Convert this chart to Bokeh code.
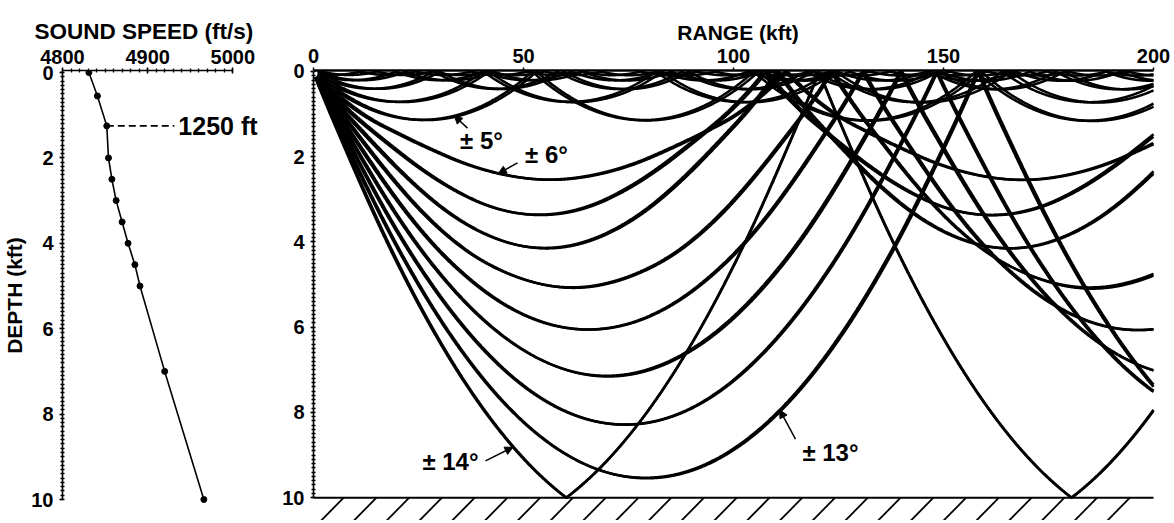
import math
import bisect
from bokeh.plotting import figure
from bokeh.layouts import row
from bokeh.models import Range1d, FixedTicker, Arrow, NormalHead, Label
from bokeh.embed import file_html
from bokeh.resources import INLINE

# ---------------- data ----------------
profile_depth_kft = [0.0, 0.55, 1.25, 2.0, 2.5, 3.0, 3.5, 4.0, 4.5, 5.0, 7.0, 10.0]
profile_speed_fts = [4831, 4841, 4852, 4854, 4858, 4863, 4870, 4877, 4885, 4891, 4920, 4966]
layer_depth_kft = 1.25
layer_text = "1250 ft"
launch_angles_deg = list(range(1, 15))      # rays launched at +/- these angles
source_depth_kft = 0.04
bottom_depth_kft = 10.0
max_range_kft = 200.0
speed_ticks = [4800, 4900, 5000]
range_ticks = [0, 50, 100, 150, 200]
depth_ticks = [0, 2, 4, 6, 8, 10]
speed_title = "SOUND SPEED (ft/s)"
depth_title = "DEPTH (kft)"
range_title = "RANGE (kft)"
label_angles = [5, 6, 14, 13]
label_texts = ["± 5°", "± 6°", "± 14°", "± 13°"]

# ---------------- ray trace through the profile ----------------
GRAD = [(profile_speed_fts[i + 1] - profile_speed_fts[i]) /
        (profile_depth_kft[i + 1] - profile_depth_kft[i])
        for i in range(len(profile_depth_kft) - 1)]


def speed_grad(z):
    i = bisect.bisect_right(profile_depth_kft, z) - 1
    i = min(max(i, 0), len(GRAD) - 1)
    return profile_speed_fts[i] + GRAD[i] * (z - profile_depth_kft[i]), GRAD[i]


def trace(theta_deg, ds=0.04):
    th = math.radians(theta_deg)
    x, z = 0.0, source_depth_kft
    xs, zs = [x], [z]
    n = 0
    while x < max_range_kft:
        c1, g1 = speed_grad(z)
        k1 = -math.cos(th) * g1 / c1
        thm = th + 0.5 * ds * k1
        zm = min(max(z + 0.5 * ds * math.sin(th), 0.0), bottom_depth_kft)
        c2, g2 = speed_grad(zm)
        k2 = -math.cos(thm) * g2 / c2
        nx = x + ds * math.cos(thm)
        nz = z + ds * math.sin(thm)
        nth = th + ds * k2
        if nz < 0 or nz > bottom_depth_kft:
            b = 0.0 if nz < 0 else bottom_depth_kft
            f = (b - z) / (nz - z)
            xs.append(x + f * (nx - x))
            zs.append(b)
            nz = 2 * b - nz
            nth = -nth
            n = 0
        if nx >= max_range_kft:
            f = (max_range_kft - x) / (nx - x)
            xs.append(max_range_kft)
            zs.append(z + f * (nz - z))
            break
        x, z, th = nx, nz, nth
        n += 1
        if n % 3 == 0:
            xs.append(x)
            zs.append(z)
    return xs, zs


ray_xs, ray_zs = [], []
rays_by_angle = {}
for a in launch_angles_deg:
    for s in (1, -1):
        xs, zs = trace(s * a)
        ray_xs.append(xs)
        ray_zs.append(zs)
        rays_by_angle[s * a] = (xs, zs)


def depth_on_ray(angle, r):
    xs, zs = rays_by_angle[angle]
    for i in range(1, len(xs)):
        if xs[i] >= r:
            f = (r - xs[i - 1]) / (xs[i] - xs[i - 1])
            return zs[i - 1] + f * (zs[i] - zs[i - 1])
    return zs[-1]


# ---------------- layout (pixel targets in picture coordinates) ----------------
FONT = "Liberation Sans"
OFF = 0          # observed page offset of the plot canvas
H = 520

# left panel (sound speed)
L_W = 278
L_x0_page, L_px_per = 60, 0.86           # 4800 at x 60, 5000 at x 232
L_frame_left, L_frame_right = 60, 262
L_frame_top, L_frame_bottom = 70, OFF + H
L_d0, L_dpx = 72, 42.7                   # depth 0 at y 72, 10 at y 499

p1 = figure(width=L_W, height=H, output_backend="svg", toolbar_location=None,
            x_axis_location="above", title=speed_title,
            x_range=Range1d(speed_ticks[0] + (L_frame_left - L_x0_page) / L_px_per,
                            speed_ticks[0] + (L_frame_right - L_x0_page) / L_px_per),
            y_range=Range1d(bottom_depth_kft + (L_frame_bottom - (L_d0 + 10 * L_dpx)) / L_dpx,
                            -(L_d0 - L_frame_top) / L_dpx))
p1.min_border_left = L_frame_left - OFF
p1.min_border_right = OFF + L_W - L_frame_right
p1.min_border_top = L_frame_top - OFF
p1.min_border_bottom = OFF + H - L_frame_bottom
p1.title.align = "left"
p1.title.offset = 32 - L_frame_left
p1.title.standoff = 5
p1.title.text_font = FONT
p1.title.text_font_style = "bold"
p1.title.text_font_size = "22.5px"
p1.title.text_color = "black"


def lsx(px):
    return speed_ticks[0] + (px - L_x0_page) / L_px_per


# right panel (ray trace)
R_W = 1174 - L_W
R_page_left = OFF + L_W
R_x0_page, R_px_per = 313, (1153 - 313) / 200.0
R_frame_left, R_frame_right = 313, 1162
R_frame_top, R_frame_bottom = 67, OFF + H
R_d0, R_dpx = 68, 42.9

p2 = figure(width=R_W, height=H, output_backend="svg", toolbar_location=None,
            x_axis_location="above",
            x_range=Range1d((R_frame_left - R_x0_page) / R_px_per,
                            (R_frame_right - R_x0_page) / R_px_per),
            y_range=Range1d(bottom_depth_kft + (R_frame_bottom - (R_d0 + 10 * R_dpx)) / R_dpx,
                            -(R_d0 - R_frame_top) / R_dpx))
p2.min_border_left = R_frame_left - R_page_left
p2.min_border_right = R_page_left + R_W - R_frame_right
p2.min_border_top = R_frame_top - OFF
p2.min_border_bottom = OFF + H - R_frame_bottom

for p in (p1, p2):
    p.grid.visible = False
    p.outline_line_color = None
    p.background_fill_color = "white"
    p.border_fill_color = "white"
    for ax in (p.xaxis[0], p.yaxis[0]):
        ax.major_label_text_font = FONT
        ax.major_label_text_font_style = "bold"
        ax.major_label_text_font_size = "20px"
        ax.major_label_text_color = "black"
        ax.axis_label_text_font = FONT
        ax.axis_label_text_font_style = "bold"
        ax.axis_label_text_font_size = "21px"
        ax.axis_label_text_color = "black"
        ax.axis_line_color = "black"
        ax.major_tick_line_color = "black"
        ax.minor_tick_line_color = "black"
        ax.axis_line_width = 1.6
        ax.major_tick_line_width = 1.5
        ax.minor_tick_line_width = 1.3

# left panel axes
xa = p1.xaxis[0]
xa.ticker = FixedTicker(ticks=speed_ticks, minor_ticks=list(range(4800, 5001, 10)))
xa.bounds = (speed_ticks[0], speed_ticks[-1])
xa.major_tick_in, xa.major_tick_out = 3, 3
xa.minor_tick_in, xa.minor_tick_out = 2, 2
xa.major_label_standoff = 4

ya = p1.yaxis[0]
ya.ticker = FixedTicker(ticks=depth_ticks, minor_ticks=[i / 10 for i in range(0, 101)])
ya.bounds = (0, bottom_depth_kft)
ya.axis_label = depth_title
ya.axis_label_text_font_size = "21px"
ya.major_tick_in, ya.major_tick_out = 0, 3
ya.minor_tick_in, ya.minor_tick_out = 2, 2
ya.major_label_standoff = 6
ya.axis_label_standoff = 2

# profile
p1.line(profile_speed_fts, profile_depth_kft, line_color="black", line_width=1.6)
p1.scatter(profile_speed_fts, profile_depth_kft, size=6, marker="circle",
           fill_color="black", line_color="black")
layer_speed = profile_speed_fts[profile_depth_kft.index(layer_depth_kft)]
p1.line([layer_speed, lsx(173)], [layer_depth_kft, layer_depth_kft], line_color="black",
        line_width=1.8, line_dash="7 4")
p1.add_layout(Label(x=lsx(177), y=layer_depth_kft, text=layer_text, text_font=FONT,
                    text_font_style="bold", text_font_size="25px", text_baseline="middle",
                    text_align="left", text_color="black"))

# right panel axes
xa2 = p2.xaxis[0]
xa2.ticker = FixedTicker(ticks=range_ticks, minor_ticks=list(range(0, 201, 10)))
xa2.bounds = (0, max_range_kft)
xa2.axis_label = range_title
xa2.major_tick_in, xa2.major_tick_out = 0, 3
xa2.minor_tick_in, xa2.minor_tick_out = 0, 0
xa2.major_label_standoff = 5
xa2.axis_label_standoff = 2
xa2.axis_line_width = 2.5

ya2 = p2.yaxis[0]
ya2.ticker = FixedTicker(ticks=depth_ticks, minor_ticks=[i / 10 for i in range(0, 101)])
ya2.bounds = (0, bottom_depth_kft)
ya2.major_tick_in, ya2.major_tick_out = 0, 3
ya2.minor_tick_in, ya2.minor_tick_out = 2, 2
ya2.major_label_standoff = 6

# rays
p2.multi_line(ray_xs, ray_zs, line_color="black", line_width=2.6)

# sea floor with hatching
p2.line([0, max_range_kft], [bottom_depth_kft, bottom_depth_kft], line_color="black", line_width=2)
hatch_step_kft, hatch_w_kft, hatch_h_kft = 7.8, 6.0, 0.6
hx = 7.2
x0s, y0s, x1s, y1s = [], [], [], []
while hx <= 197:
    x0s.append(hx - hatch_w_kft)
    y0s.append(bottom_depth_kft + hatch_h_kft)
    x1s.append(hx)
    y1s.append(bottom_depth_kft)
    hx += hatch_step_kft
p2.segment(x0s, y0s, x1s, y1s, line_color="black", line_width=1.8)

# source
p2.scatter([0], [source_depth_kft], size=10, marker="circle", fill_color="white",
           line_color="black", line_width=2)


# angle annotations (positions in picture pixels -> data)
def rx(px):
    return (px - R_x0_page) / R_px_per


def dy(py):
    return (py - R_d0) / R_dpx


label_layout = {
    5: dict(text=(481, 137), tail=(467, 125), head_r=33.5),
    6: dict(text=(546, 152), tail=(517, 160), head_r=44.0),
    14: dict(text=(450, 461), tail=(485, 460), head_r=47.5),
    13: dict(text=(830, 452), tail=(795, 438), head_r=111.0),
}
for ang, txt in zip(label_angles, label_texts):
    lay = label_layout[ang]
    p2.add_layout(Label(x=rx(lay["text"][0]), y=dy(lay["text"][1]), text=txt,
                        text_font=FONT, text_font_style="bold", text_font_size="24px",
                        text_align="center", text_baseline="middle", text_color="black"))
    hr = lay["head_r"]
    hd = depth_on_ray(ang, hr)
    p2.add_layout(Arrow(x_start=rx(lay["tail"][0]), y_start=dy(lay["tail"][1]),
                        x_end=hr, y_end=hd, line_color="black", line_width=1.5,
                        end=NormalHead(size=8, fill_color="black", line_color="black")))

layout = row(p1, p2)
open("out.html", "w").write(file_html(layout, INLINE))
